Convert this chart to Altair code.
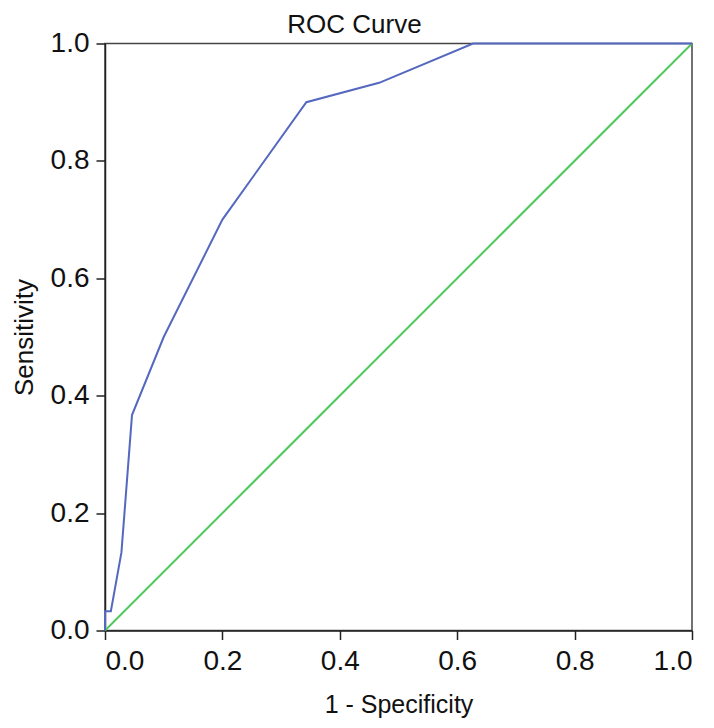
import altair as alt
import pandas as pd

fpr = [0.0, 0.0, 0.01, 0.028, 0.046, 0.1, 0.2, 0.343, 0.467, 0.627, 1.0]
tpr = [0.0, 0.033, 0.033, 0.133, 0.367, 0.5, 0.7, 0.9, 0.933, 1.0, 1.0]
ref_x = [0.0, 1.0]
ref_y = [0.0, 1.0]
tick_values = [0, 0.2, 0.4, 0.6, 0.8, 1.0]

roc = pd.DataFrame({"x": fpr, "y": tpr, "o": list(range(len(fpr)))})
ref = pd.DataFrame({"x": ref_x, "y": ref_y, "o": [0, 1]})

font = "Liberation Sans"
xs = alt.Scale(domain=[0, 1], nice=False, zero=False)
ys = alt.Scale(domain=[0, 1], nice=False, zero=False)

axis_common = dict(
    values=tick_values, format=".1f", grid=False,
    domainColor="#222", domainWidth=1.5, tickColor="#222", tickWidth=1.5, tickSize=9,
    labelFont=font, labelFontSize=28, labelColor="#111",
    titleFont=font, titleFontWeight="normal", titleColor="#111",
)

ref_line = alt.Chart(ref).mark_line(color="#4cc95a", strokeWidth=2).encode(
    x=alt.X("x:Q", scale=xs, axis=alt.Axis(title="1 - Specificity", titleFontSize=25, titlePadding=17, labelPadding=8, **axis_common)),
    y=alt.Y("y:Q", scale=ys, axis=alt.Axis(title="Sensitivity", titleFontSize=26, titlePadding=13, labelPadding=7, **axis_common)),
    order="o:Q",
)
roc_line = alt.Chart(roc).mark_line(color="#5468c0", strokeWidth=2).encode(
    x="x:Q", y="y:Q", order="o:Q"
)

chart = alt.layer(ref_line, roc_line).properties(
    width=587, height=587,
    title=alt.TitleParams("ROC Curve", font=font, fontSize=26, fontWeight="normal", color="#111", dx=-44, offset=-8),
    autosize=alt.AutoSizeParams(type="none"),
    padding={"left": 97, "top": 35.5, "right": 14, "bottom": 89.5},
).configure_view(stroke="#444", strokeWidth=1.5)

chart.save("out.html", embed_options={"renderer": "svg", "actions": False})
